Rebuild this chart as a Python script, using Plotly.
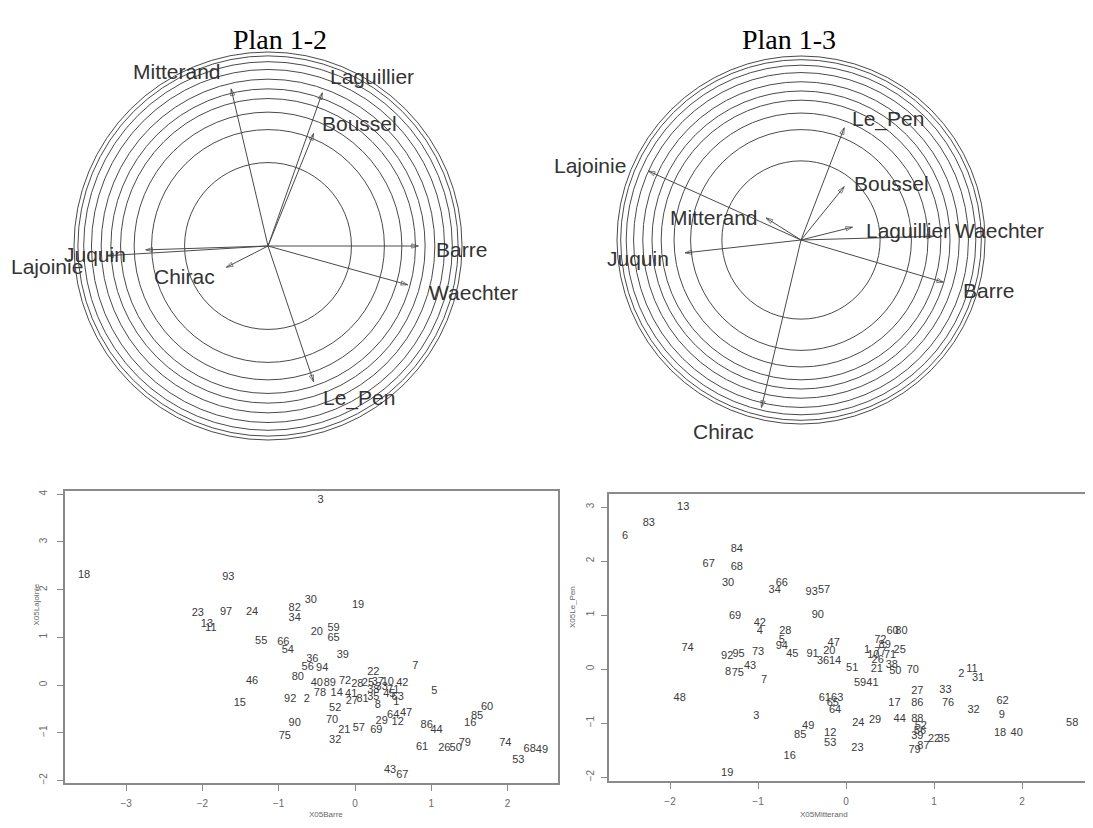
import plotly.graph_objects as go

# The page body has an 8px default margin, so the figure is 8px smaller and
# every reference pixel position is shifted by that amount.
OFF = 8
W, H = 1093 - OFF, 828 - OFF

# ---------------- data: correlation circles ----------------
variables = ["Mitterand", "Laguillier", "Boussel", "Barre", "Waechter",
             "Le_Pen", "Chirac", "Juquin", "Lajoinie"]
dim1 = [-0.19, 0.28, 0.235, 0.775, 0.72, 0.235, -0.215, -0.63, -0.83]
dim2 = [0.81, 0.79, 0.58, 0.00, -0.20, -0.70, -0.11, -0.02, -0.05]
dim3 = [0.12, 0.07, 0.29, -0.23, 0.02, 0.61, -0.91, -0.07, 0.375]
ring_radii = [0.43, 0.60, 0.69, 0.76, 0.81, 0.86, 0.91, 0.95, 0.98, 1.0]

# ---------------- data: scatter Barre / Lajoinie ----------------
dep_12 = ["3", "18", "93", "23", "97", "24", "13", "11", "30", "82", "34", "19",
          "20", "59", "65", "55", "66", "54", "36", "39", "56", "94", "80", "7",
          "22", "46", "15", "5", "40", "89", "72", "28", "25", "37", "10", "42",
          "92", "2", "78", "14", "52", "27", "38", "35", "8", "71", "63", "1",
          "90", "70", "75", "21", "57", "69", "29", "64", "47", "12", "32", "86",
          "44", "60", "85", "16", "61", "26", "50", "79", "74", "53", "68", "49",
          "43", "67", "33", "81", "45", "41"]
x_barre = [-0.45, -3.55, -1.66, -2.06, -1.69, -1.35, -1.94, -1.89, -0.58, -0.79, -0.79, 0.04,
           -0.50, -0.28, -0.28, -1.23, -0.94, -0.88, -0.56, -0.16, -0.62, -0.43, -0.75, 0.79,
           0.24, -1.35, -1.51, 1.04, -0.50, -0.33, -0.13, 0.03, 0.17, 0.30, 0.43, 0.62,
           -0.85, -0.63, -0.46, -0.24, -0.26, -0.04, 0.24, 0.24, 0.30, 0.50, 0.56, 0.54,
           -0.79, -0.30, -0.92, -0.14, 0.05, 0.28, 0.35, 0.50, 0.67, 0.56, -0.26, 0.94,
           1.07, 1.73, 1.60, 1.51, 0.88, 1.17, 1.32, 1.44, 1.97, 2.14, 2.29, 2.45,
           0.46, 0.62, 0.35, 0.10, 0.45, -0.05]
y_lajoinie = [3.88, 2.31, 2.26, 1.51, 1.53, 1.53, 1.28, 1.19, 1.78, 1.61, 1.40, 1.68,
              1.11, 1.19, 0.99, 0.92, 0.90, 0.73, 0.55, 0.63, 0.38, 0.36, 0.17, 0.40,
              0.27, 0.08, -0.38, -0.13, 0.04, 0.04, 0.08, 0.02, 0.04, 0.06, 0.06, 0.04,
              -0.29, -0.29, -0.17, -0.17, -0.48, -0.34, -0.10, -0.25, -0.42, -0.10, -0.25, -0.36,
              -0.80, -0.73, -1.07, -0.94, -0.90, -0.94, -0.75, -0.63, -0.59, -0.78, -1.15, -0.84,
              -0.94, -0.46, -0.65, -0.80, -1.30, -1.32, -1.32, -1.22, -1.22, -1.57, -1.34, -1.36,
              -1.78, -1.89, -0.05, -0.30, -0.20, -0.20]

# ---------------- data: scatter Mitterand / Le_Pen ----------------
dep_13 = ["13", "83", "6", "84", "67", "68", "30", "66", "34", "93", "57", "69",
          "90", "42", "4", "28", "60", "80", "74", "92", "95", "73", "94", "5",
          "45", "91", "8", "75", "43", "7", "48", "3", "49", "85", "16", "19",
          "12", "53", "23", "24", "29", "44", "88", "52", "56", "39", "22", "35",
          "79", "87", "17", "86", "27", "33", "76", "32", "2", "11", "31", "62",
          "9", "18", "40", "58", "51", "21", "38", "50", "70", "59", "41", "1",
          "10", "77", "89", "26", "71", "25", "72", "36", "14", "47", "20", "61",
          "63", "64", "65"]
x_mitterand = [-1.85, -2.24, -2.51, -1.24, -1.56, -1.24, -1.34, -0.73, -0.81, -0.39, -0.25, -1.26,
               -0.32, -0.98, -0.98, -0.69, 0.53, 0.63, -1.80, -1.35, -1.22, -1.00, -0.73, -0.73,
               -0.61, -0.38, -1.34, -1.23, -1.09, -0.93, -1.89, -1.02, -0.43, -0.52, -0.64, -1.35,
               -0.18, -0.18, 0.13, 0.14, 0.33, 0.61, 0.81, 0.85, 0.84, 0.81, 1.00, 1.11,
               0.78, 0.88, 0.55, 0.81, 0.81, 1.13, 1.16, 1.45, 1.31, 1.43, 1.50, 1.78,
               1.77, 1.75, 1.94, 2.57, 0.07, 0.35, 0.52, 0.56, 0.76, 0.16, 0.30, 0.24,
               0.31, 0.39, 0.44, 0.36, 0.50, 0.61, 0.39, -0.26, -0.125, -0.14, -0.19, -0.24,
               -0.10, -0.125, -0.15]
y_lepen = [3.00, 2.70, 2.46, 2.22, 1.94, 1.89, 1.59, 1.59, 1.46, 1.43, 1.46, 0.98,
           0.99, 0.85, 0.69, 0.69, 0.70, 0.70, 0.39, 0.24, 0.28, 0.31, 0.43, 0.54,
           0.28, 0.28, -0.06, -0.07, 0.06, -0.20, -0.54, -0.87, -1.06, -1.22, -1.61, -1.93,
           -1.19, -1.37, -1.46, -1.00, -0.94, -0.93, -0.93, -1.06, -1.15, -1.24, -1.31, -1.31,
           -1.50, -1.43, -0.63, -0.63, -0.41, -0.39, -0.63, -0.76, -0.09, 0.00, -0.17, -0.59,
           -0.85, -1.19, -1.19, -1.00, 0.02, 0.00, 0.07, -0.04, -0.02, -0.26, -0.26, 0.35,
           0.26, 0.31, 0.44, 0.17, 0.26, 0.35, 0.54, 0.15, 0.15, 0.48, 0.33, -0.54,
           -0.54, -0.76, -0.63]

# ---------------- layout geometry (reference pixels) ----------------
def PX(v):
    return (v - OFF) / W

def PY(v):
    return 1 - (v - OFF) / H

def circ_axes(cx, cy, r, left, right, top, bottom):
    left = max(left, OFF)
    right = min(right, W + OFF)
    return (dict(domain=[PX(left), PX(right)], range=[(left - cx) / r, (right - cx) / r]),
            dict(domain=[PY(bottom), PY(top)], range=[(cy - bottom) / r, (cy - top) / r]))

def scat_axes(x0, xs, y0, ys, left, right, top, bottom):
    return (dict(domain=[PX(left), PX(right)], range=[(left - x0) / xs, (right - x0) / xs]),
            dict(domain=[PY(bottom), PY(top)], range=[(y0 - bottom) / ys, (y0 - top) / ys]))

c12x, c12y = circ_axes(268, 246, 194, 8, 546, 36, 470)
c13x, c13y = circ_axes(801, 240, 184, 560, 1093, 36, 470)
s12x, s12y = scat_axes(355, 76.3, 685, 47.7, 65, 558, 491, 783)
s13x, s13y = scat_axes(846, 88.0, 669, 54.0, 609, 1090, 494, 781)

shift12 = {"Mitterand": (-54, 17), "Laguillier": (50, 16), "Boussel": (46, 10),
           "Barre": (43, -3), "Waechter": (66, -8), "Le_Pen": (45, -16),
           "Chirac": (-42, -9), "Juquin": (-51, -5), "Lajoinie": (-60, -11)}
shift13 = {"Le_Pen": (44, 9), "Boussel": (47, 3), "Lajoinie": (-58, 6),
           "Mitterand": (-52, 0), "Laguillier": (55, -3), "Waechter": (66, 6),
           "Juquin": (-47, -6), "Barre": (45, -8), "Chirac": (-38, -24)}

fig = go.Figure()
shapes = []
annotations = []
LINE = "#4a4a4a"
LAB = "#333333"

def corcircle(xs, ys, xa, ya, shifts):
    for r in ring_radii:
        shapes.append(dict(type="circle", xref=xa, yref=ya, x0=-r, x1=r, y0=-r, y1=r,
                           line=dict(color=LINE, width=1)))
    for name, vx, vy in zip(variables, xs, ys):
        fig.add_trace(go.Scatter(
            x=[0, vx], y=[0, vy], xaxis=xa, yaxis=ya, mode="lines+markers",
            line=dict(color=LINE, width=1),
            marker=dict(symbol=["circle", "arrow-open"], size=[0, 7], angleref="previous",
                        color=LINE, line=dict(color=LINE, width=1)),
            showlegend=False, hoverinfo="skip", cliponaxis=False))
        dx, dy = shifts[name]
        annotations.append(dict(x=vx, y=vy, xref=xa, yref=ya, text=name, showarrow=False,
                                xshift=dx, yshift=dy,
                                font=dict(family="Liberation Sans", size=21, color=LAB)))

corcircle(dim1, dim2, "x", "y", shift12)
corcircle(dim1, dim3, "x2", "y2", shift13)

for labs, xs, ys, xa, ya in [(dep_12, x_barre, y_lajoinie, "x3", "y3"),
                             (dep_13, x_mitterand, y_lepen, "x4", "y4")]:
    fig.add_trace(go.Scatter(x=xs, y=ys, text=labs, mode="text", xaxis=xa, yaxis=ya,
                             textposition="middle center",
                             textfont=dict(family="Liberation Sans", size=11, color="#3a3a3a"),
                             showlegend=False, cliponaxis=False))

# titles
TT = dict(family="Liberation Serif", size=28, color="black")
annotations.append(dict(x=PX(231), y=PY(22), xref="paper", yref="paper", text="Plan 1-2",
                        showarrow=False, font=TT))
annotations.append(dict(x=PX(838), y=PY(22), xref="paper", yref="paper", text="Plan 1-3",
                        showarrow=False, font=TT))

# axis titles of scatter plots
AXT = dict(family="Liberation Sans", size=8, color="#666666")
annotations.append(dict(x=PX(307), y=PY(821), xref="paper", yref="paper", text="X05Barre",
                        showarrow=False, font=AXT))
annotations.append(dict(x=PX(850), y=PY(821), xref="paper", yref="paper", text="X05Mitterand",
                        showarrow=False, font=AXT))
annotations.append(dict(x=PX(29), y=PY(628), xref="paper", yref="paper", text="X05Lajoinie",
                        showarrow=False, textangle=-90, font=AXT))
annotations.append(dict(x=PX(572), y=PY(630), xref="paper", yref="paper", text="X05Le_Pen",
                        showarrow=False, textangle=-90, font=AXT))

hidden = dict(visible=False, fixedrange=True, automargin=False)
frame = dict(showline=True, mirror=True, linecolor="#8a8a8a", linewidth=1.6,
             ticks="outside", ticklen=6, tickcolor="#8a8a8a", tickwidth=1.2,
             showgrid=False, zeroline=False, automargin=False,
             tickfont=dict(family="Liberation Sans", size=10, color="#6a6a6a"))

fig.update_layout(
    width=W, height=H, autosize=False,
    margin=dict(l=0, r=0, t=0, b=0, autoexpand=False),
    paper_bgcolor="white", plot_bgcolor="white",
    showlegend=False,
    xaxis=dict(**c12x, **hidden, anchor="y"), yaxis=dict(**c12y, **hidden, anchor="x"),
    xaxis2=dict(**c13x, **hidden, anchor="y2"), yaxis2=dict(**c13y, **hidden, anchor="x2"),
    xaxis3=dict(**s12x, **frame, anchor="y3", tickvals=[-3, -2, -1, 0, 1, 2],
                ticklabelstandoff=4),
    yaxis3=dict(**s12y, **frame, anchor="x3", tickvals=[-2, -1, 0, 1, 2, 3, 4],
                tickangle=-90, ticklabelstandoff=6),
    xaxis4=dict(**s13x, **frame, anchor="y4", tickvals=[-2, -1, 0, 1, 2],
                ticklabelstandoff=4),
    yaxis4=dict(**s13y, **frame, anchor="x4", tickvals=[-2, -1, 0, 1, 2, 3],
                tickangle=-90, ticklabelstandoff=3),
    shapes=shapes,
    annotations=annotations,
)

fig.write_html("out.html")
